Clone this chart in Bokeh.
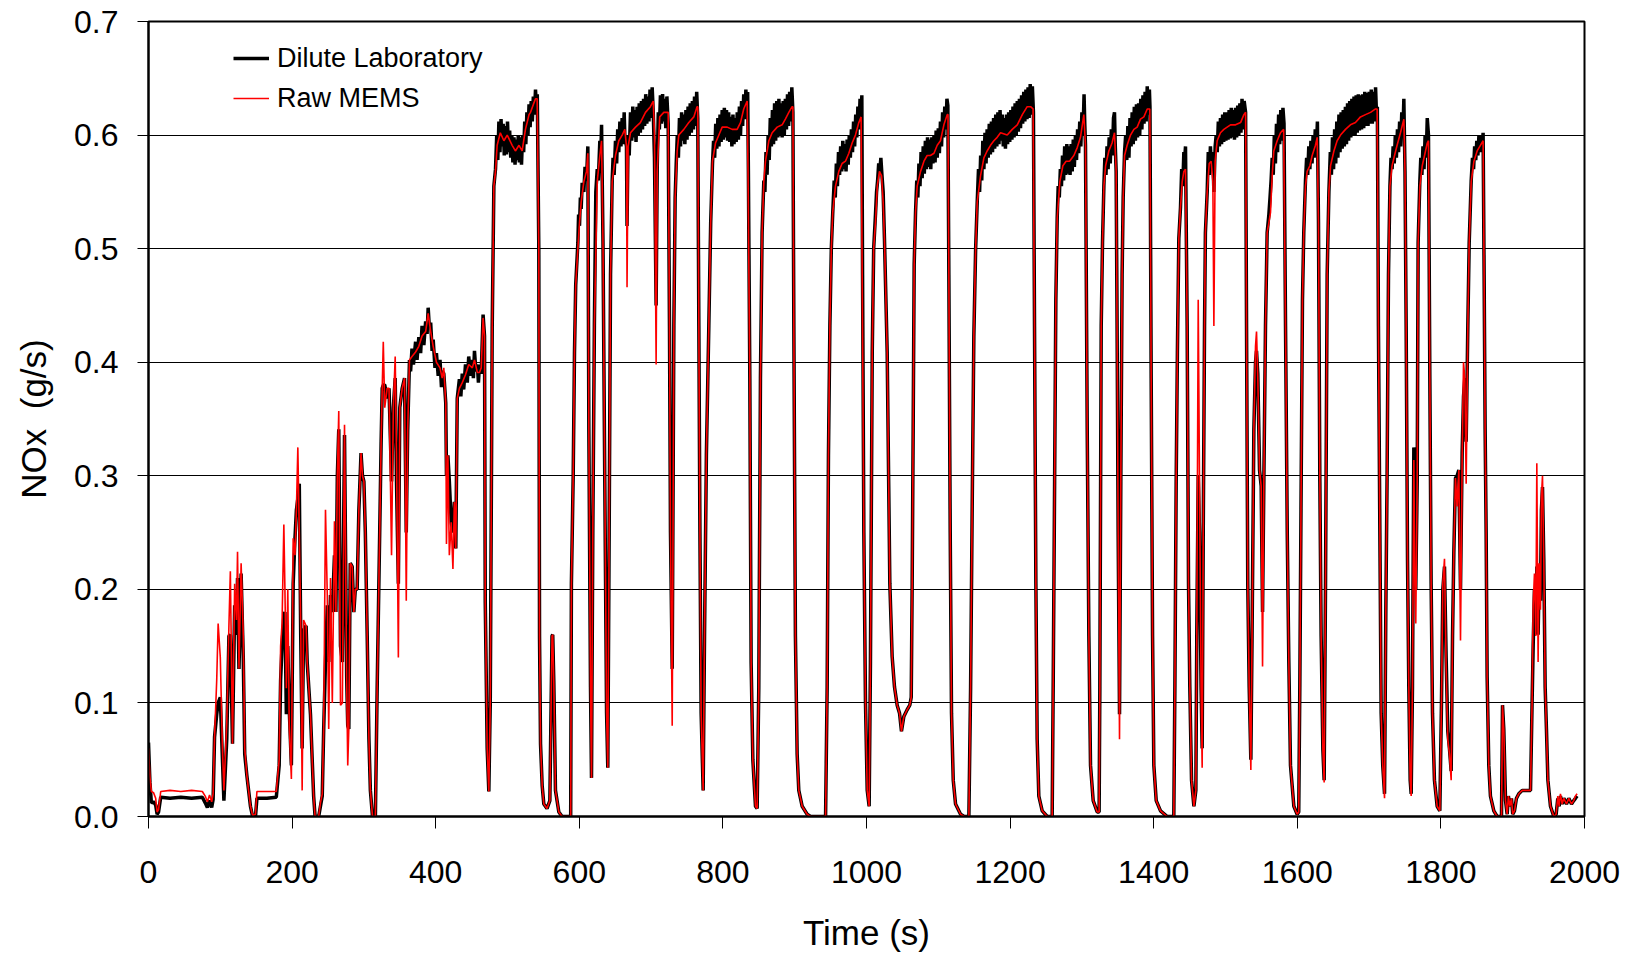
from bokeh.plotting import figure
from bokeh.models import Range1d, FixedTicker, NumeralTickFormatter, Legend, LegendItem
from bokeh.embed import file_html
from bokeh.resources import INLINE

# Raw MEMS sensor signal (s, g/s)
t_mems = [
    0, 2, 4, 7, 10, 12, 14, 17, 30, 45,
    60, 75, 79, 82, 85, 88, 90, 92, 95, 97,
    100, 103, 105, 109, 112, 114, 117, 120, 122.5, 124,
    126, 129, 132, 134, 137, 142, 145, 149, 151, 165,
    178, 182, 184, 186, 188.5, 190, 192, 194, 196, 199,
    201.5, 204, 206, 208, 210, 212, 214, 216, 219.5, 221,
    225.6, 228, 230, 232, 237, 239.5, 242, 244, 246.5, 249,
    251, 253.5, 256, 259, 261, 263, 265, 267.4, 270, 273,
    276, 277.5, 279, 281, 283.7, 286, 288, 290.6, 293, 296,
    298, 300, 302, 304.6, 307, 309, 312, 316, 318.5, 322,
    324, 325.5, 327, 329, 332.4, 335, 338.5, 341, 343.6, 345.4,
    348, 350, 353.3, 356.6, 359, 361, 363.5, 367, 372, 376.5,
    381, 386, 389.5, 393, 396.5, 401, 406, 409, 411.3, 414,
    415, 417, 419, 421.6, 424, 426, 428, 430, 433, 437,
    441.5, 446, 451, 454, 458, 461, 463.4, 466, 468, 469,
    471.7, 474, 476, 478.7, 481, 483.3, 485.6, 490, 495, 499.6,
    506.5, 511, 516, 520.4, 525, 530, 532, 536, 539, 541.3,
    543.6, 544.6, 546, 548.3, 550.6, 555, 559, 562, 563, 564.5,
    566.8, 571.5, 576, 588, 589, 591.5, 593.3, 595, 598, 600.3,
    602.6, 606.3, 610, 611.9, 613.3, 615.6, 617, 618.8, 621, 625,
    628.6, 631, 633, 635.5, 638, 639.7, 641.6, 643.5, 645.8, 650.4,
    655, 659.7, 663.4, 665.7, 666.5, 668, 671.3, 678.3, 685, 692.2,
    699, 703, 704.7, 707, 708.5, 712, 717.7, 723.8, 725.6, 727,
    729.4, 731.7, 733.5, 736.3, 738.6, 745.6, 752.5, 759.5, 764, 765,
    766.5, 768, 769.7, 772.5, 774.4, 777, 780.4, 783, 785.5, 789.7,
    795.7, 799, 806, 812.9, 819.8, 824.5, 829, 833.8, 835, 837.5,
    839.3, 841.7, 845.4, 847.7, 850, 852.3, 854.6, 857, 859.3, 864,
    868.6, 875.6, 882.5, 887, 891.8, 896.4, 897.5, 898.8, 901, 903.4,
    905.7, 910.4, 917.3, 922, 943, 945.2, 947, 949, 951, 953,
    956.8, 961.4, 966, 970.7, 975.4, 980, 984.6, 989.3, 992.5, 994,
    996.3, 998.6, 1001, 1003.7, 1005.5, 1008, 1010, 1012.5, 1015, 1018,
    1021, 1023.2, 1025, 1028.8, 1032.5, 1035.7, 1039, 1042.7, 1046, 1048.7,
    1052, 1056.6, 1060.3, 1062.3, 1063.6, 1065, 1066.4, 1068.3, 1070.6, 1075.3,
    1080, 1084.5, 1089, 1094, 1098.5, 1103, 1107.8, 1112.4, 1113.5, 1114.7,
    1116.6, 1118.4, 1120.8, 1124, 1131, 1136, 1142.6, 1145, 1147.2, 1149.5,
    1152, 1154.2, 1158.8, 1163.5, 1168, 1172.7, 1177.4, 1182, 1186.7, 1196,
    1203, 1210, 1217, 1223.8, 1228.5, 1232, 1234, 1235.9, 1237.7, 1240,
    1244.7, 1251.7, 1258.6, 1260, 1262, 1263.7, 1265.6, 1269.3, 1273.5, 1278,
    1282.8, 1288.8, 1293.5, 1298, 1302.7, 1305, 1307.4, 1309.7, 1312, 1315.7,
    1321.3, 1324, 1325, 1326.9, 1328.7, 1330.6, 1333, 1337.5, 1342, 1345.4,
    1347.7, 1349, 1350.5, 1352.4, 1354.2, 1356, 1357.5, 1359.4, 1363, 1367.7,
    1372.4, 1377, 1381.6, 1386.3, 1391, 1394.6, 1396.5, 1398.4, 1400.2, 1403.5,
    1409.5, 1418.8, 1428, 1429.5, 1431.3, 1433, 1435, 1437.3, 1439.7, 1442,
    1444.3, 1446.6, 1448.5, 1450.3, 1452.7, 1456, 1458.7, 1460, 1462, 1463.8,
    1466, 1467.5, 1469, 1470.8, 1472, 1474.5, 1477.3, 1480, 1482.4, 1483.8,
    1485.6, 1488.4, 1493, 1497.7, 1502.3, 1507, 1514, 1521, 1525.6, 1528,
    1529.3, 1531, 1533, 1535.3, 1537, 1539.5, 1541.8, 1543.2, 1545, 1547.4,
    1549.7, 1551.6, 1553.4, 1555.7, 1558, 1560.4, 1562.7, 1565, 1567.3, 1572,
    1576.6, 1581, 1583.6, 1586, 1588.2, 1590.5, 1595.2, 1599.8, 1602, 1603.5,
    1605.4, 1607.2, 1609, 1611.4, 1613.7, 1617.5, 1620.7, 1625.3, 1627.7, 1629.5,
    1631.4, 1633.2, 1635.6, 1637.4, 1639.3, 1641.6, 1644, 1646.3, 1651, 1655.5,
    1660.2, 1667.1, 1674, 1681, 1688, 1695, 1702, 1709, 1711.2, 1713,
    1715, 1716.8, 1719, 1721.5, 1723.3, 1725, 1727, 1729, 1732, 1735.4,
    1739, 1743.7, 1748.4, 1750, 1751.6, 1753.5, 1755.3, 1757.2, 1758.6, 1760.4,
    1762.3, 1763.7, 1765, 1767, 1768.3, 1770.7, 1774, 1777.2, 1781, 1782.7,
    1784.6, 1786.4, 1788.3, 1791, 1794.8, 1798.5, 1800.8, 1802.7, 1805, 1807.3,
    1809.6, 1811.9, 1814.3, 1816.2, 1818, 1820.3, 1822.6, 1825, 1827.3, 1829.6,
    1831.5, 1833.3, 1835.2, 1837.5, 1839.4, 1842.2, 1846, 1850.5, 1855, 1858.8,
    1860.2, 1861.6, 1863, 1864.4, 1866.7, 1869, 1873.7, 1878.3, 1884.4, 1885.8,
    1887.6, 1890, 1892.3, 1894, 1896, 1898.3, 1900, 1902.5, 1905.2, 1908.5,
    1913.2, 1920, 1924.8, 1927, 1928.5, 1930.3, 1932.2, 1933.6, 1935.4, 1936.8,
    1938.7, 1940, 1941.5, 1943.3, 1945.2, 1947, 1949, 1952.6, 1957.3, 1960.5,
    1962.8, 1964.7, 1966.5, 1968.9, 1971.2, 1974.9, 1978.1, 1981.9, 1985, 1987.4,
    1989.7,
]
nox_mems = [
    0.060, 0.035, 0.022, 0.021, 0.016, 0.004, 0.006, 0.022, 0.023, 0.022,
    0.023, 0.022, 0.018, 0.013, 0.019, 0.013, 0.020, 0.070, 0.120, 0.170,
    0.140, 0.060, 0.023, 0.082, 0.168, 0.216, 0.064, 0.205, 0.173, 0.233,
    0.130, 0.223, 0.159, 0.060, 0.036, 0.009, 0.001, 0.002, 0.022, 0.022,
    0.022, 0.050, 0.150, 0.170, 0.257, 0.200, 0.113, 0.200, 0.080, 0.033,
    0.245, 0.230, 0.270, 0.325, 0.250, 0.168, 0.023, 0.173, 0.168, 0.136,
    0.090, 0.050, 0.018, 0.000, 0.000, 0.012, 0.020, 0.077, 0.270, 0.195,
    0.077, 0.210, 0.100, 0.260, 0.180, 0.300, 0.357, 0.098, 0.100, 0.345,
    0.120, 0.045, 0.077, 0.223, 0.220, 0.180, 0.200, 0.200, 0.270, 0.320,
    0.300, 0.295, 0.250, 0.159, 0.068, 0.023, 0.000, 0.000, 0.114, 0.250,
    0.330, 0.377, 0.418, 0.360, 0.377, 0.377, 0.230, 0.360, 0.405, 0.320,
    0.140, 0.360, 0.377, 0.386, 0.190, 0.340, 0.402, 0.405, 0.409, 0.414,
    0.423, 0.427, 0.443, 0.427, 0.414, 0.400, 0.395, 0.386, 0.395, 0.364,
    0.240, 0.318, 0.230, 0.259, 0.218, 0.277, 0.236, 0.368, 0.377, 0.382,
    0.389, 0.398, 0.395, 0.402, 0.391, 0.391, 0.395, 0.439, 0.423, 0.190,
    0.060, 0.022, 0.100, 0.430, 0.555, 0.568, 0.591, 0.602, 0.595, 0.600,
    0.591, 0.586, 0.591, 0.586, 0.605, 0.618, 0.620, 0.627, 0.632, 0.632,
    0.500, 0.159, 0.064, 0.027, 0.011, 0.007, 0.014, 0.159, 0.160, 0.118,
    0.023, 0.004, 0.000, 0.000, 0.205, 0.300, 0.409, 0.468, 0.500, 0.523,
    0.541, 0.559, 0.568, 0.584, 0.341, 0.114, 0.034, 0.250, 0.432, 0.559,
    0.582, 0.595, 0.505, 0.295, 0.091, 0.043, 0.250, 0.477, 0.559, 0.582,
    0.595, 0.600, 0.605, 0.590, 0.466, 0.590, 0.602, 0.607, 0.611, 0.620,
    0.625, 0.630, 0.600, 0.398, 0.568, 0.616, 0.620, 0.620, 0.432, 0.250,
    0.080, 0.432, 0.545, 0.586, 0.600, 0.605, 0.611, 0.616, 0.625, 0.625,
    0.432, 0.250, 0.091, 0.023, 0.159, 0.318, 0.432, 0.523, 0.577, 0.593,
    0.602, 0.607, 0.607, 0.605, 0.605, 0.611, 0.623, 0.630, 0.568, 0.386,
    0.136, 0.050, 0.009, 0.007, 0.114, 0.386, 0.514, 0.559, 0.577, 0.595,
    0.602, 0.607, 0.609, 0.614, 0.620, 0.625, 0.625, 0.432, 0.159, 0.055,
    0.023, 0.009, 0.002, 0.000, 0.000, 0.114, 0.318, 0.432, 0.500, 0.532,
    0.555, 0.568, 0.575, 0.577, 0.584, 0.593, 0.600, 0.611, 0.616, 0.477,
    0.250, 0.100, 0.023, 0.009, 0.136, 0.409, 0.500, 0.523, 0.555, 0.568,
    0.564, 0.541, 0.509, 0.409, 0.205, 0.141, 0.114, 0.098, 0.091, 0.075,
    0.088, 0.094, 0.098, 0.105, 0.205, 0.341, 0.486, 0.532, 0.555, 0.568,
    0.577, 0.582, 0.582, 0.584, 0.591, 0.595, 0.609, 0.618, 0.618, 0.477,
    0.250, 0.091, 0.032, 0.011, 0.002, 0.000, 0.000, 0.114, 0.273, 0.423,
    0.500, 0.541, 0.564, 0.580, 0.586, 0.591, 0.595, 0.598, 0.602, 0.600,
    0.605, 0.609, 0.618, 0.625, 0.625, 0.623, 0.432, 0.205, 0.068, 0.018,
    0.005, 0.000, 0.000, 0.114, 0.295, 0.455, 0.527, 0.559, 0.573, 0.577,
    0.577, 0.582, 0.589, 0.598, 0.618, 0.591, 0.341, 0.159, 0.045, 0.014,
    0.004, 0.004, 0.114, 0.432, 0.505, 0.555, 0.573, 0.586, 0.593, 0.602,
    0.568, 0.432, 0.250, 0.068, 0.295, 0.477, 0.545, 0.582, 0.591, 0.600,
    0.605, 0.607, 0.614, 0.616, 0.623, 0.623, 0.386, 0.159, 0.045, 0.014,
    0.005, 0.000, 0.000, 0.114, 0.295, 0.409, 0.509, 0.536, 0.559, 0.568,
    0.570, 0.432, 0.205, 0.114, 0.032, 0.009, 0.023, 0.159, 0.455, 0.295,
    0.114, 0.043, 0.250, 0.432, 0.514, 0.550, 0.575, 0.577, 0.559, 0.432,
    0.577, 0.595, 0.602, 0.605, 0.607, 0.609, 0.609, 0.611, 0.618, 0.620,
    0.432, 0.205, 0.114, 0.041, 0.159, 0.341, 0.414, 0.427, 0.386, 0.305,
    0.291, 0.132, 0.295, 0.432, 0.514, 0.523, 0.532, 0.564, 0.586, 0.595,
    0.602, 0.605, 0.432, 0.250, 0.136, 0.045, 0.009, 0.002, 0.004, 0.114,
    0.295, 0.455, 0.514, 0.555, 0.568, 0.573, 0.582, 0.591, 0.598, 0.523,
    0.295, 0.159, 0.059, 0.030, 0.205, 0.477, 0.550, 0.573, 0.586, 0.595,
    0.600, 0.605, 0.609, 0.611, 0.616, 0.618, 0.620, 0.623, 0.623, 0.432,
    0.250, 0.091, 0.045, 0.016, 0.182, 0.295, 0.477, 0.555, 0.573, 0.582,
    0.591, 0.602, 0.614, 0.568, 0.432, 0.227, 0.114, 0.032, 0.018, 0.114,
    0.314, 0.205, 0.170, 0.295, 0.505, 0.555, 0.573, 0.582, 0.593, 0.595,
    0.386, 0.205, 0.091, 0.032, 0.009, 0.005, 0.100, 0.205, 0.227, 0.132,
    0.068, 0.055, 0.032, 0.159, 0.232, 0.298, 0.273, 0.305, 0.155, 0.314,
    0.400, 0.386, 0.293, 0.432, 0.505, 0.559, 0.577, 0.586, 0.591, 0.595,
    0.477, 0.341, 0.250, 0.123, 0.045, 0.018, 0.005, 0.000, 0.000, 0.098,
    0.077, 0.014, 0.002, 0.018, 0.009, 0.016, 0.002, 0.005, 0.016, 0.020,
    0.023, 0.023, 0.023, 0.100, 0.186, 0.214, 0.159, 0.311, 0.136, 0.223,
    0.182, 0.282, 0.300, 0.227, 0.114, 0.077, 0.032, 0.009, 0.000, 0.002,
    0.018, 0.009, 0.020, 0.011, 0.016, 0.011, 0.016, 0.011, 0.014, 0.018,
    0.020,
]

# Dilute laboratory reference (s, g/s); dense sampling on the cruise plateaus
t_dilute = [
    0, 2, 4, 7, 10, 12, 14, 17, 30, 45,
    60, 75, 79, 82, 85, 88, 90, 92, 95, 97,
    100, 103, 105, 109, 112, 114, 117, 120, 122.5, 124,
    126, 129, 132, 134, 137, 142, 145, 149, 151, 165,
    178, 182, 184, 186, 188.5, 190, 192, 194, 196, 199,
    201.5, 204, 206, 208, 210, 212, 214, 216, 219.5, 221,
    225.6, 228, 230, 232, 237, 239.5, 242, 244, 246.5, 249,
    251, 253.5, 256, 259, 261, 263, 265, 267.4, 270, 273,
    276, 277.5, 279, 281, 283.7, 286, 288, 290.6, 293, 296,
    298, 300, 302, 304.6, 307, 309, 312, 316, 318.5, 322,
    324, 325.5, 327, 329, 332.4, 335, 338.5, 341, 343.6, 345.4,
    348, 350, 353.3, 356.6, 359, 361, 363.5, 365, 367, 369,
    372, 374, 376.5, 379, 381, 383.5, 386, 388, 389.5, 391,
    393, 395, 396.5, 399, 401, 403.5, 406, 408, 409, 411.3,
    414, 415, 417, 419, 421.6, 424, 426, 428, 430, 433,
    435, 437, 439, 441.5, 444, 446, 448.5, 451, 452.5, 454,
    456, 458, 459.5, 461, 463.4, 466, 468, 469, 471.7, 474,
    476, 478.7, 481, 483.3, 485, 486.5, 488, 489.5, 491, 492.5,
    494, 495.5, 497, 498.5, 500, 501.5, 503, 504.5, 506, 507.5,
    509, 510.5, 512, 513.5, 515, 516.5, 518, 519.5, 521, 522.5,
    524, 525.5, 527, 528.5, 530, 531.5, 533, 534.5, 536, 537.5,
    539, 540.5, 541.5, 543.6, 544.6, 546, 548.3, 550.6, 555, 559,
    562, 563, 564.5, 566.8, 571.5, 576, 588, 589, 591.5, 593.3,
    595, 598, 599, 600.3, 601.5, 602.6, 604, 606.3, 608, 610,
    611.9, 613.3, 615.6, 617, 618.8, 621, 623, 625, 626.5, 628.6,
    630, 631, 633, 635.5, 638, 639.7, 641.6, 643.5, 645.8, 647,
    648.5, 650.4, 652, 653.5, 655, 656.5, 658, 659.7, 661, 662.5,
    663.4, 665.7, 666.5, 668, 669.5, 671.3, 673, 674.5, 676, 677.5,
    679, 680.5, 682, 683.5, 685, 686.5, 688, 689.5, 691, 692.5,
    694, 695.5, 697, 698.5, 700, 701.5, 703, 704.7, 707, 708.5,
    710, 711.5, 713, 714.5, 716, 717.5, 719, 720.5, 722, 723.8,
    725.6, 727, 729.4, 731.7, 733.5, 735, 736.5, 738, 739.5, 741,
    742.5, 744, 745.5, 747, 748.5, 750, 751.5, 753, 754.5, 756,
    757.5, 759, 760.5, 762, 763.5, 765, 766.5, 768, 769.7, 772.5,
    774.4, 777, 780.4, 783, 785.5, 787, 788.5, 790, 791.5, 793,
    794.5, 796, 797.5, 799, 800.5, 802, 803.5, 805, 806.5, 808,
    809.5, 811, 812.5, 814, 815.5, 817, 818.5, 820, 821.5, 823,
    824.5, 826, 827.5, 829, 830.5, 832, 833.5, 834.5, 835.5, 837.5,
    839.3, 841.7, 845.4, 847.7, 850, 852.3, 854.6, 857, 858.5, 860,
    861.5, 863, 864.5, 866, 867.5, 869, 870.5, 872, 873.5, 875,
    876.5, 878, 879.5, 881, 882.5, 884, 885.5, 887, 888.5, 890,
    891.5, 893, 894.5, 896, 897.5, 898.8, 901, 903.4, 905.7, 910.4,
    917.3, 922, 943, 945.2, 947, 949, 951, 953, 955, 956.5,
    958, 959.5, 961, 962.5, 964, 965.5, 967, 968.5, 970, 971.5,
    973, 974.5, 976, 977.5, 979, 980.5, 982, 983.5, 985, 986.5,
    988, 989.5, 991, 992.5, 993.5, 994.5, 996.3, 998.6, 1001, 1003.7,
    1005.5, 1008, 1010, 1012.5, 1014, 1015.5, 1017, 1018.5, 1020, 1021.5,
    1023.2, 1025, 1028.8, 1032.5, 1035.7, 1039, 1042.7, 1046, 1048.7, 1052,
    1056.6, 1060.3, 1062.3, 1063.6, 1065, 1066.4, 1068.3, 1070, 1071.5, 1073,
    1074.5, 1076, 1077.5, 1079, 1080.5, 1082, 1083.5, 1085, 1086.5, 1088,
    1089.5, 1091, 1092.5, 1094, 1095.5, 1097, 1098.5, 1100, 1101.5, 1103,
    1104.5, 1106, 1107.5, 1109, 1110.5, 1112, 1113.3, 1114.7, 1116.6, 1118.4,
    1120.8, 1124, 1131, 1136, 1142.6, 1145, 1147.2, 1149.5, 1152, 1154.2,
    1156, 1157.5, 1159, 1160.5, 1162, 1163.5, 1165, 1166.5, 1168, 1169.5,
    1171, 1172.5, 1174, 1175.5, 1177, 1178.5, 1180, 1181.5, 1183, 1184.5,
    1186, 1187.5, 1189, 1190.5, 1192, 1193.5, 1195, 1196.5, 1198, 1199.5,
    1201, 1202.5, 1204, 1205.5, 1207, 1208.5, 1210, 1211.5, 1213, 1214.5,
    1216, 1217.5, 1219, 1220.5, 1222, 1223.5, 1225, 1226.5, 1228, 1229.5,
    1231, 1232.5, 1234, 1235.9, 1237.7, 1240, 1244.7, 1251.7, 1258.6, 1260,
    1262, 1263.7, 1265.6, 1267, 1268.5, 1270, 1271.5, 1273, 1274.5, 1276,
    1277.5, 1279, 1280.5, 1282, 1283.5, 1285, 1286.5, 1288, 1289.5, 1291,
    1292.5, 1294, 1295.5, 1297, 1298.5, 1300, 1301.5, 1303, 1304, 1305,
    1307.4, 1309.7, 1312, 1315.7, 1321.3, 1324, 1325, 1326.9, 1328.7, 1330.6,
    1332, 1333.5, 1335, 1336.5, 1338, 1339.5, 1341, 1342.5, 1344, 1345.4,
    1346.5, 1347.7, 1349, 1350.5, 1352.4, 1354.2, 1356, 1357.5, 1359.4, 1361,
    1362.5, 1364, 1365.5, 1367, 1368.5, 1370, 1371.5, 1373, 1374.5, 1376,
    1377.5, 1379, 1380.5, 1382, 1383.5, 1385, 1386.5, 1388, 1389.5, 1391,
    1392.5, 1394, 1394.8, 1396.5, 1398.4, 1400.2, 1403.5, 1409.5, 1418.8, 1428,
    1429.5, 1431.3, 1433, 1435, 1437.3, 1439, 1440.5, 1442, 1443.3, 1444.3,
    1446.6, 1448.5, 1450.3, 1452.7, 1456, 1458.7, 1460, 1462, 1463.8, 1466,
    1467.5, 1469, 1470.8, 1472, 1474.5, 1476, 1477.5, 1479, 1480.5, 1482.4,
    1483.8, 1485.6, 1487, 1488.5, 1490, 1491.5, 1493, 1494.5, 1496, 1497.5,
    1499, 1500.5, 1502, 1503.5, 1505, 1506.5, 1508, 1509.5, 1511, 1512.5,
    1514, 1515.5, 1517, 1518.5, 1520, 1521.5, 1523, 1524.5, 1526, 1528,
    1529.3, 1531, 1533, 1535.3, 1537, 1539.5, 1541.8, 1543.2, 1545, 1547.4,
    1549.7, 1551.6, 1553.4, 1555.7, 1558, 1560.4, 1562, 1563.5, 1565, 1566.5,
    1568, 1569.5, 1571, 1572.5, 1574, 1575.5, 1577, 1578.5, 1580, 1581.5,
    1583.6, 1586, 1588.2, 1590.5, 1595.2, 1599.8, 1602, 1603.5, 1605.4, 1607.2,
    1609, 1611.4, 1613, 1614.5, 1616, 1617.5, 1619, 1620.5, 1622, 1623.5,
    1625, 1626.5, 1628, 1629.5, 1631.4, 1633.2, 1635.6, 1637.4, 1639.3, 1641.6,
    1644, 1646, 1647.5, 1649, 1650.5, 1652, 1653.5, 1655, 1656.5, 1658,
    1659.5, 1661, 1662.5, 1664, 1665.5, 1667, 1668.5, 1670, 1671.5, 1673,
    1674.5, 1676, 1677.5, 1679, 1680.5, 1682, 1683.5, 1685, 1686.5, 1688,
    1689.5, 1691, 1692.5, 1694, 1695.5, 1697, 1698.5, 1700, 1701.5, 1703,
    1704.5, 1706, 1707.5, 1709, 1710.5, 1711.5, 1713, 1715, 1716.8, 1719,
    1721.5, 1723.3, 1725, 1727, 1729, 1730.5, 1732, 1733.5, 1735, 1736.5,
    1738, 1739.5, 1741, 1742.5, 1744, 1745.5, 1747, 1748.4, 1750, 1751.6,
    1753.5, 1755.3, 1757.2, 1758.6, 1760.4, 1762.3, 1763.7, 1765, 1767, 1768.3,
    1770.7, 1772, 1773.5, 1775, 1776.5, 1778, 1779.5, 1781, 1782.7, 1784.6,
    1786.4, 1788.3, 1791, 1794.8, 1798.5, 1800.8, 1802.7, 1805, 1807.3, 1809.6,
    1811.9, 1814.3, 1816.2, 1818, 1820.3, 1822.6, 1825, 1827.3, 1829.6, 1831.5,
    1833.3, 1835.2, 1837.5, 1839.4, 1842.2, 1844, 1845.5, 1847, 1848.5, 1850,
    1851.5, 1853, 1854.5, 1856, 1857.5, 1858.8, 1860.2, 1861.6, 1863, 1864.4,
    1866.7, 1869, 1873.7, 1878.3, 1884.4, 1885.8, 1887.6, 1890, 1892.3, 1894,
    1896, 1898.3, 1900, 1902.5, 1905.2, 1908.5, 1913.2, 1920, 1924.8, 1927,
    1928.5, 1930.3, 1932.2, 1933.6, 1935.4, 1936.8, 1938.7, 1940, 1941.5, 1943.3,
    1945.2, 1947, 1949, 1952.6, 1957.3, 1960.5, 1962.8, 1964.7, 1966.5, 1968.9,
    1971.2, 1974.9, 1978.1, 1981.9, 1985, 1987.4, 1989.7,
]
nox_dilute = [
    0.065, 0.030, 0.012, 0.013, 0.010, 0.002, 0.004, 0.017, 0.016, 0.017,
    0.016, 0.017, 0.012, 0.008, 0.014, 0.008, 0.015, 0.070, 0.090, 0.100,
    0.105, 0.050, 0.014, 0.068, 0.159, 0.160, 0.064, 0.186, 0.160, 0.210,
    0.130, 0.214, 0.140, 0.055, 0.036, 0.009, 0.000, 0.000, 0.016, 0.016,
    0.017, 0.045, 0.120, 0.150, 0.177, 0.180, 0.090, 0.150, 0.095, 0.045,
    0.205, 0.245, 0.270, 0.280, 0.293, 0.160, 0.060, 0.164, 0.168, 0.136,
    0.090, 0.050, 0.018, 0.000, 0.000, 0.009, 0.018, 0.077, 0.136, 0.186,
    0.136, 0.195, 0.180, 0.230, 0.180, 0.300, 0.341, 0.150, 0.136, 0.336,
    0.123, 0.080, 0.077, 0.223, 0.220, 0.180, 0.200, 0.200, 0.270, 0.320,
    0.300, 0.295, 0.250, 0.159, 0.068, 0.023, 0.000, 0.000, 0.114, 0.250,
    0.330, 0.377, 0.380, 0.380, 0.368, 0.377, 0.295, 0.360, 0.386, 0.295,
    0.205, 0.360, 0.377, 0.386, 0.250, 0.340, 0.402, 0.392, 0.412, 0.398,
    0.418, 0.402, 0.422, 0.408, 0.432, 0.415, 0.436, 0.425, 0.448, 0.432,
    0.435, 0.410, 0.420, 0.395, 0.408, 0.388, 0.402, 0.378, 0.392, 0.390,
    0.364, 0.300, 0.318, 0.295, 0.259, 0.250, 0.277, 0.236, 0.368, 0.385,
    0.370, 0.390, 0.376, 0.398, 0.382, 0.405, 0.388, 0.402, 0.386, 0.410,
    0.392, 0.398, 0.382, 0.398, 0.390, 0.442, 0.423, 0.190, 0.060, 0.022,
    0.100, 0.430, 0.555, 0.570, 0.600, 0.578, 0.612, 0.585, 0.614, 0.590,
    0.610, 0.582, 0.608, 0.583, 0.612, 0.585, 0.604, 0.580, 0.600, 0.576,
    0.598, 0.574, 0.596, 0.578, 0.600, 0.576, 0.598, 0.574, 0.600, 0.585,
    0.612, 0.592, 0.620, 0.600, 0.627, 0.607, 0.630, 0.612, 0.634, 0.618,
    0.640, 0.622, 0.636, 0.500, 0.159, 0.064, 0.027, 0.011, 0.007, 0.014,
    0.159, 0.160, 0.118, 0.023, 0.004, 0.000, 0.000, 0.205, 0.300, 0.409,
    0.468, 0.505, 0.530, 0.520, 0.545, 0.535, 0.558, 0.550, 0.572, 0.560,
    0.590, 0.341, 0.114, 0.034, 0.250, 0.432, 0.550, 0.570, 0.560, 0.595,
    0.585, 0.609, 0.505, 0.295, 0.091, 0.043, 0.250, 0.477, 0.560, 0.580,
    0.565, 0.595, 0.575, 0.605, 0.585, 0.612, 0.590, 0.615, 0.592, 0.620,
    0.600, 0.590, 0.520, 0.600, 0.582, 0.620, 0.595, 0.625, 0.598, 0.622,
    0.594, 0.625, 0.600, 0.628, 0.602, 0.630, 0.605, 0.632, 0.608, 0.636,
    0.610, 0.634, 0.612, 0.640, 0.615, 0.642, 0.620, 0.580, 0.450, 0.570,
    0.620, 0.605, 0.635, 0.610, 0.636, 0.612, 0.632, 0.606, 0.634, 0.610,
    0.432, 0.250, 0.130, 0.432, 0.545, 0.575, 0.600, 0.580, 0.615, 0.590,
    0.620, 0.595, 0.618, 0.592, 0.622, 0.596, 0.625, 0.600, 0.628, 0.602,
    0.630, 0.605, 0.634, 0.608, 0.638, 0.615, 0.432, 0.250, 0.091, 0.023,
    0.159, 0.318, 0.432, 0.523, 0.575, 0.595, 0.580, 0.610, 0.588, 0.615,
    0.590, 0.618, 0.594, 0.622, 0.596, 0.624, 0.598, 0.622, 0.595, 0.620,
    0.594, 0.616, 0.590, 0.618, 0.592, 0.615, 0.594, 0.620, 0.596, 0.625,
    0.600, 0.630, 0.608, 0.636, 0.614, 0.640, 0.620, 0.638, 0.568, 0.386,
    0.136, 0.050, 0.009, 0.007, 0.114, 0.386, 0.514, 0.560, 0.550, 0.585,
    0.565, 0.600, 0.578, 0.615, 0.590, 0.622, 0.592, 0.628, 0.595, 0.630,
    0.598, 0.632, 0.600, 0.628, 0.598, 0.630, 0.600, 0.632, 0.605, 0.636,
    0.608, 0.638, 0.612, 0.642, 0.620, 0.432, 0.159, 0.055, 0.023, 0.009,
    0.002, 0.000, 0.000, 0.114, 0.318, 0.432, 0.500, 0.532, 0.560, 0.545,
    0.575, 0.555, 0.585, 0.565, 0.590, 0.568, 0.595, 0.570, 0.592, 0.568,
    0.596, 0.574, 0.600, 0.580, 0.605, 0.585, 0.612, 0.590, 0.618, 0.598,
    0.625, 0.605, 0.632, 0.612, 0.635, 0.477, 0.250, 0.100, 0.023, 0.009,
    0.136, 0.409, 0.500, 0.530, 0.550, 0.560, 0.575, 0.568, 0.580, 0.565,
    0.550, 0.509, 0.409, 0.205, 0.141, 0.114, 0.098, 0.091, 0.075, 0.088,
    0.094, 0.098, 0.105, 0.205, 0.341, 0.486, 0.532, 0.560, 0.545, 0.575,
    0.555, 0.585, 0.562, 0.590, 0.566, 0.595, 0.570, 0.598, 0.572, 0.596,
    0.570, 0.598, 0.575, 0.600, 0.576, 0.604, 0.580, 0.606, 0.584, 0.612,
    0.590, 0.620, 0.598, 0.625, 0.605, 0.632, 0.626, 0.477, 0.250, 0.091,
    0.032, 0.011, 0.002, 0.000, 0.000, 0.114, 0.273, 0.423, 0.500, 0.541,
    0.570, 0.550, 0.582, 0.560, 0.595, 0.570, 0.602, 0.575, 0.605, 0.580,
    0.610, 0.583, 0.612, 0.585, 0.615, 0.588, 0.618, 0.590, 0.620, 0.592,
    0.622, 0.595, 0.618, 0.590, 0.615, 0.588, 0.618, 0.592, 0.620, 0.594,
    0.622, 0.596, 0.625, 0.598, 0.628, 0.600, 0.630, 0.603, 0.632, 0.606,
    0.635, 0.610, 0.638, 0.612, 0.640, 0.614, 0.642, 0.615, 0.645, 0.618,
    0.643, 0.620, 0.432, 0.205, 0.068, 0.018, 0.005, 0.000, 0.000, 0.114,
    0.295, 0.455, 0.527, 0.555, 0.545, 0.570, 0.555, 0.582, 0.560, 0.590,
    0.565, 0.592, 0.566, 0.590, 0.565, 0.592, 0.568, 0.596, 0.572, 0.600,
    0.578, 0.605, 0.584, 0.612, 0.590, 0.620, 0.600, 0.636, 0.610, 0.591,
    0.341, 0.159, 0.045, 0.014, 0.004, 0.004, 0.114, 0.432, 0.505, 0.555,
    0.580, 0.565, 0.590, 0.570, 0.598, 0.575, 0.605, 0.582, 0.615, 0.620,
    0.590, 0.568, 0.432, 0.250, 0.090, 0.295, 0.477, 0.545, 0.585, 0.600,
    0.578, 0.608, 0.580, 0.615, 0.590, 0.620, 0.592, 0.625, 0.595, 0.627,
    0.598, 0.628, 0.600, 0.632, 0.605, 0.635, 0.610, 0.638, 0.612, 0.643,
    0.618, 0.640, 0.625, 0.386, 0.159, 0.045, 0.014, 0.005, 0.000, 0.000,
    0.114, 0.295, 0.409, 0.509, 0.536, 0.570, 0.555, 0.585, 0.580, 0.590,
    0.432, 0.205, 0.114, 0.032, 0.009, 0.023, 0.159, 0.300, 0.250, 0.114,
    0.060, 0.250, 0.432, 0.514, 0.550, 0.585, 0.565, 0.590, 0.570, 0.585,
    0.550, 0.590, 0.600, 0.585, 0.612, 0.590, 0.615, 0.592, 0.618, 0.594,
    0.620, 0.595, 0.620, 0.596, 0.622, 0.597, 0.624, 0.598, 0.622, 0.596,
    0.624, 0.598, 0.626, 0.600, 0.628, 0.602, 0.632, 0.605, 0.630, 0.620,
    0.432, 0.205, 0.114, 0.050, 0.159, 0.341, 0.400, 0.410, 0.390, 0.305,
    0.291, 0.180, 0.295, 0.432, 0.514, 0.530, 0.545, 0.560, 0.580, 0.565,
    0.600, 0.575, 0.610, 0.585, 0.618, 0.592, 0.622, 0.595, 0.624, 0.610,
    0.432, 0.250, 0.136, 0.045, 0.009, 0.002, 0.004, 0.114, 0.295, 0.455,
    0.514, 0.560, 0.580, 0.565, 0.590, 0.570, 0.595, 0.575, 0.600, 0.580,
    0.605, 0.585, 0.612, 0.523, 0.295, 0.159, 0.059, 0.032, 0.205, 0.477,
    0.550, 0.585, 0.565, 0.598, 0.570, 0.605, 0.575, 0.612, 0.580, 0.618,
    0.585, 0.620, 0.588, 0.622, 0.590, 0.625, 0.592, 0.628, 0.595, 0.630,
    0.598, 0.632, 0.600, 0.634, 0.600, 0.635, 0.602, 0.636, 0.604, 0.635,
    0.605, 0.636, 0.606, 0.638, 0.608, 0.637, 0.608, 0.638, 0.610, 0.640,
    0.610, 0.638, 0.612, 0.642, 0.615, 0.625, 0.432, 0.250, 0.091, 0.045,
    0.020, 0.182, 0.295, 0.477, 0.555, 0.580, 0.570, 0.590, 0.575, 0.600,
    0.580, 0.605, 0.585, 0.612, 0.590, 0.620, 0.600, 0.632, 0.568, 0.432,
    0.227, 0.114, 0.032, 0.020, 0.114, 0.325, 0.250, 0.200, 0.295, 0.505,
    0.560, 0.580, 0.565, 0.590, 0.570, 0.600, 0.580, 0.615, 0.600, 0.386,
    0.205, 0.091, 0.032, 0.009, 0.005, 0.100, 0.200, 0.220, 0.140, 0.075,
    0.060, 0.040, 0.159, 0.232, 0.298, 0.300, 0.305, 0.200, 0.320, 0.370,
    0.386, 0.330, 0.432, 0.505, 0.560, 0.580, 0.570, 0.590, 0.578, 0.595,
    0.582, 0.600, 0.585, 0.600, 0.590, 0.602, 0.477, 0.341, 0.250, 0.123,
    0.045, 0.018, 0.005, 0.000, 0.000, 0.098, 0.077, 0.014, 0.002, 0.018,
    0.009, 0.016, 0.002, 0.005, 0.016, 0.020, 0.023, 0.023, 0.023, 0.100,
    0.150, 0.200, 0.160, 0.220, 0.160, 0.210, 0.190, 0.270, 0.290, 0.227,
    0.114, 0.077, 0.032, 0.009, 0.000, 0.002, 0.016, 0.009, 0.018, 0.011,
    0.016, 0.011, 0.016, 0.011, 0.014, 0.016, 0.018,
]

x_ticks = [0, 200, 400, 600, 800, 1000, 1200, 1400, 1600, 1800, 2000]
y_ticks = [0.0, 0.1, 0.2, 0.3, 0.4, 0.5, 0.6, 0.7]

FONT = "Liberation Sans"

p = figure(
    width=1634, height=955,
    x_range=Range1d(0, 2000), y_range=Range1d(0, 0.7),
    output_backend="svg", toolbar_location=None,
    min_border_left=148, min_border_right=50,
    min_border_top=21, min_border_bottom=139,
    background_fill_color="white", border_fill_color="white",
)

p.outline_line_color = "black"
p.outline_line_width = 2

p.xgrid.visible = False
p.ygrid.ticker = FixedTicker(ticks=y_ticks)
p.ygrid.grid_line_color = "black"
p.ygrid.grid_line_width = 1

for ax in (p.xaxis[0], p.yaxis[0]):
    ax.axis_line_color = "black"
    ax.axis_line_width = 2
    ax.major_tick_line_color = "black"
    ax.major_tick_line_width = 1
    ax.major_tick_in = 0
    ax.minor_tick_line_color = None
    ax.major_label_text_font = FONT
    ax.major_label_text_color = "black"
    ax.major_label_text_font_size = "32px"
    ax.axis_label_text_font = FONT
    ax.axis_label_text_font_style = "normal"
    ax.axis_label_text_color = "black"
    ax.axis_label_text_font_size = "35px"

p.xaxis.ticker = FixedTicker(ticks=x_ticks)
p.xaxis.major_tick_out = 12
p.xaxis.major_label_standoff = 32
p.xaxis.axis_label = "Time (s)"
p.xaxis.axis_label_standoff = 27

p.yaxis.ticker = FixedTicker(ticks=y_ticks)
p.yaxis.formatter = NumeralTickFormatter(format="0.0")
p.yaxis.major_tick_out = 11
p.yaxis.major_label_standoff = 19
p.yaxis.axis_label = "NOx\u00a0\u00a0(g/s)"
p.yaxis.axis_label_standoff = 18

dilute = p.line(t_dilute, nox_dilute, line_color="black", line_width=3.5)
mems = p.line(t_mems, nox_mems, line_color="#ff0000", line_width=1.6)

legend = Legend(
    items=[LegendItem(label="Dilute Laboratory", renderers=[dilute]),
           LegendItem(label="Raw MEMS", renderers=[mems])],
    location=(85, 698),
    background_fill_alpha=0, border_line_alpha=0,
    label_text_font=FONT, label_text_font_size="27px", label_text_color="black",
    glyph_width=36, glyph_height=40, label_height=40, label_standoff=8,
    spacing=0, padding=0, margin=0,
)
p.add_layout(legend)

open("out.html", "w").write(file_html(p, INLINE))
